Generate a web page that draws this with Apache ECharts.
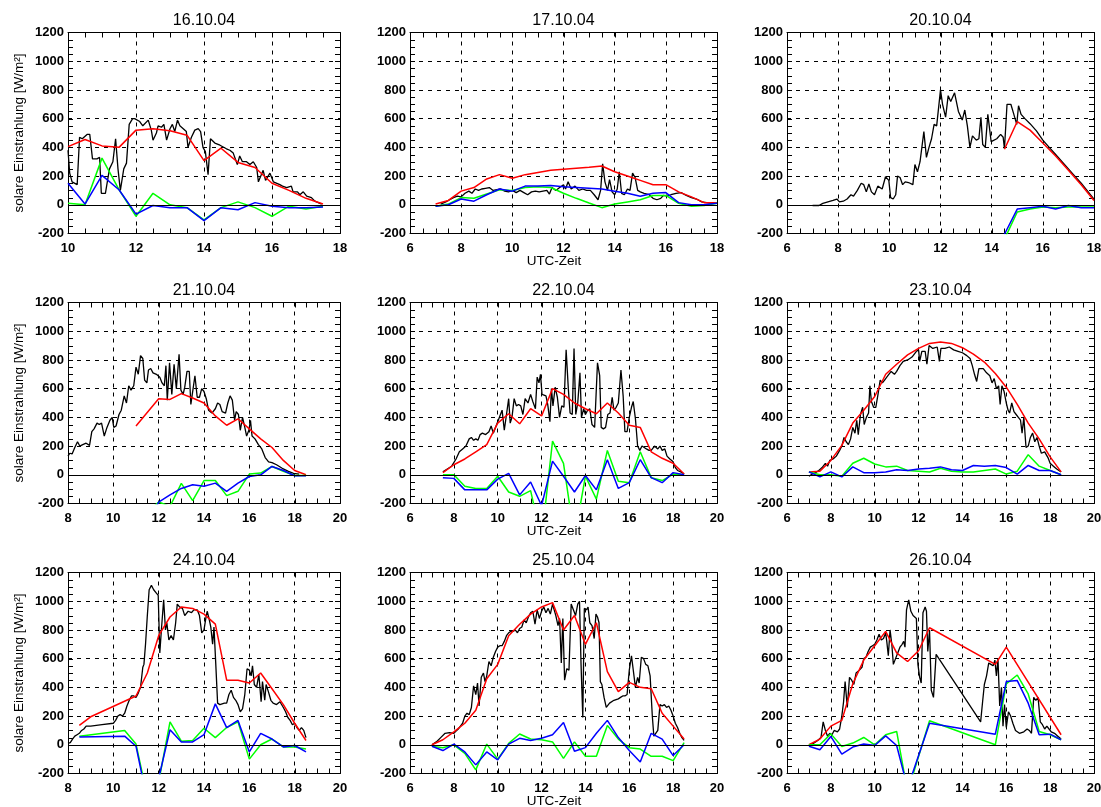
<!DOCTYPE html>
<html>
<head>
<meta charset="utf-8">
<script src="https://cdn.jsdelivr.net/npm/echarts@6/dist/echarts.min.js"></script>
<style>
html, body { margin: 0; padding: 0; background: #fff; }
#chart { width: 1101px; height: 807px; }
</style>
</head>
<body>
<div id="chart"></div>
<script>
// Tage und Zeitachsen (UTC-Stunden)
const dayTitles = ['16.10.04', '17.10.04', '20.10.04', '21.10.04', '22.10.04', '23.10.04', '24.10.04', '25.10.04', '26.10.04'];
const timeRanges = [[10, 18], [6, 18], [6, 18], [8, 20], [6, 20], [6, 20], [8, 20], [6, 20], [6, 20]];
const yRange = [-200, 1200];
const yStep = 200;
const yMinorStep = 50;
const xStep = 2;
const xMinorStep = 0.5;

// 16.10.04
const black1610 = [[10.0,380],[10.05,220],[10.12,160],[10.27,140],[10.34,470],[10.42,460],[10.56,490],[10.64,490],[10.72,320],[10.85,320],[10.93,330],[10.98,80],[11.1,80],[11.22,250],[11.32,300],[11.4,460],[11.47,250],[11.54,100],[11.64,250],[11.72,290],[11.8,560],[11.9,600],[11.96,600],[12.11,580],[12.2,550],[12.36,590],[12.45,520],[12.5,450],[12.6,500],[12.65,550],[12.75,540],[12.82,560],[12.9,450],[13.0,530],[13.07,560],[13.14,510],[13.22,590],[13.29,550],[13.39,530],[13.48,510],[13.53,400],[13.63,470],[13.73,520],[13.83,530],[13.9,510],[13.97,400],[14.04,370],[14.12,210],[14.19,460],[14.32,430],[14.47,415],[14.66,390],[14.76,380],[14.86,360],[14.98,280],[15.05,340],[15.13,300],[15.25,300],[15.35,280],[15.45,300],[15.55,260],[15.6,160],[15.74,240],[15.81,170],[15.94,220],[16.04,160],[16.23,140],[16.31,130],[16.43,120],[16.57,130],[16.62,90],[16.75,90],[16.82,70],[16.92,90],[17.02,60],[17.16,50],[17.26,25],[17.46,5]];
const red1610 = [[10,405],[10.5,455],[11,410],[11.5,400],[12,520],[12.5,530],[13,515],[13.5,485],[14,308],[14.5,394],[15,295],[15.5,260],[16,150],[16.5,100],[17,45],[17.5,5]];
const green1610 = [[10,10],[10.5,0],[11,325],[11.5,105],[12,-80],[12.5,80],[13,0],[13.5,-20],[14,-105],[14.5,-20],[15,20],[15.5,-20],[16,-80],[16.5,-10],[17,-30],[17.5,-10]];
const blue1610 = [[10,150],[10.5,5],[11,205],[11.5,105],[12,-65],[12.5,-5],[13,-20],[13.5,-20],[14,-110],[14.5,-20],[15,-35],[15.5,15],[16,-10],[16.5,-20],[17,-20],[17.5,-15]];

// 17.10.04
const black1710 = [[7.2,5],[7.4,20],[7.55,35],[7.7,50],[7.85,60],[8.0,55],[8.15,80],[8.3,95],[8.42,80],[8.55,110],[8.68,100],[8.8,110],[8.95,115],[9.1,120],[9.25,100],[9.4,105],[9.55,110],[9.7,95],[9.85,90],[10.0,100],[10.15,85],[10.3,100],[10.45,85],[10.6,70],[10.75,90],[10.9,95],[11.05,90],[11.2,95],[11.35,100],[11.45,75],[11.55,120],[11.7,100],[11.85,120],[12.0,140],[12.08,110],[12.18,160],[12.3,110],[12.45,130],[12.6,100],[12.75,110],[12.9,100],[13.05,100],[13.2,70],[13.35,35],[13.45,100],[13.53,285],[13.62,160],[13.72,100],[13.8,175],[13.9,90],[14.0,70],[14.1,110],[14.18,230],[14.27,80],[14.38,70],[14.5,110],[14.6,100],[14.7,220],[14.8,190],[14.9,100],[15.0,90],[15.15,80],[15.35,70],[15.5,45],[15.65,35],[15.8,45],[15.9,65],[16.05,60],[16.2,70],[16.4,80],[16.6,85],[16.8,65],[17.0,50],[17.2,40],[17.4,20],[17.6,15],[17.8,10]];
const red1710 = [[7,5],[7.5,30],[8,95],[8.5,120],[9,180],[9.5,210],[10,185],[10.5,210],[11,225],[11.5,240],[12,248],[12.5,255],[13,262],[13.5,270],[14,230],[14.5,200],[15,170],[15.5,140],[16,140],[16.5,90],[17,55],[17.5,15],[18,15]];
const green1710 = [[7,-10],[7.5,5],[8,50],[8.5,45],[9,75],[9.5,105],[10,100],[10.5,120],[11,125],[11.5,120],[12,80],[12.5,45],[13,12],[13.5,-20],[14,5],[14.5,20],[15,35],[15.5,65],[16,65],[16.5,10],[17,-10],[17.5,-5],[18,10]];
const blue1710 = [[7,-10],[7.5,0],[8,40],[8.5,25],[9,70],[9.5,110],[10,95],[10.5,130],[11,130],[11.5,135],[12,125],[12.5,120],[13,115],[13.5,110],[14,95],[14.5,80],[15,60],[15.5,80],[16,85],[16.5,15],[17,0],[17.5,0],[18,10]];

// 20.10.04
const black2010 = [[7.0,-5],[7.25,-5],[7.4,10],[7.6,20],[7.8,30],[7.95,40],[8.05,20],[8.2,25],[8.35,40],[8.5,70],[8.6,60],[8.75,100],[8.9,150],[9.0,140],[9.1,90],[9.2,145],[9.3,90],[9.42,70],[9.55,130],[9.62,140],[9.72,110],[9.85,195],[9.98,170],[10.05,50],[10.15,40],[10.25,70],[10.32,200],[10.42,190],[10.52,140],[10.62,160],[10.75,155],[10.82,165],[10.92,140],[11.0,280],[11.1,230],[11.2,300],[11.35,510],[11.45,330],[11.55,400],[11.65,460],[11.75,560],[11.85,550],[12.0,800],[12.08,700],[12.2,610],[12.3,760],[12.4,720],[12.55,780],[12.7,650],[12.85,590],[12.95,660],[13.05,550],[13.15,400],[13.25,480],[13.4,450],[13.5,460],[13.58,610],[13.65,420],[13.75,400],[13.85,630],[13.98,440],[14.2,460],[14.35,490],[14.45,470],[14.5,390],[14.6,700],[14.75,700],[14.85,640],[14.98,560],[15.05,690],[15.15,630],[15.3,600],[15.5,565],[15.75,515],[16.0,450],[16.25,400],[16.5,350],[16.75,300],[17.0,250],[17.25,200],[17.5,150],[17.75,95],[18.0,40]];
const red2010 = [[14.5,387],[15,580],[15.5,520],[16,430],[16.5,340],[17,240],[17.5,140],[18,30]];
const green2010 = [[14.5,-240],[15,-50],[15.5,-30],[16,-15],[16.5,-20],[17,-15],[17.5,-15],[18,-15]];
const blue2010 = [[14.5,-205],[15,-30],[15.5,-20],[16,-10],[16.5,-30],[17,-5],[17.5,-20],[18,-20]];

// 21.10.04
const black2110 = [[8.0,130],[8.08,150],[8.18,145],[8.3,190],[8.42,230],[8.52,200],[8.65,210],[8.8,220],[8.95,205],[9.05,300],[9.15,320],[9.28,360],[9.38,350],[9.48,360],[9.6,270],[9.72,330],[9.85,380],[9.95,400],[10.02,330],[10.12,340],[10.25,420],[10.35,450],[10.48,550],[10.58,500],[10.68,620],[10.78,590],[10.9,620],[11.0,750],[11.1,700],[11.2,830],[11.3,810],[11.38,660],[11.48,640],[11.55,730],[11.65,740],[11.75,710],[11.9,700],[12.05,680],[12.15,640],[12.25,620],[12.32,760],[12.38,520],[12.48,780],[12.58,560],[12.68,770],[12.78,600],[12.9,840],[12.98,590],[13.08,560],[13.15,610],[13.25,720],[13.35,720],[13.42,490],[13.5,480],[13.6,690],[13.7,540],[13.8,540],[13.9,600],[14.0,580],[14.1,530],[14.2,450],[14.35,430],[14.5,460],[14.6,500],[14.7,490],[14.8,440],[14.95,430],[15.05,500],[15.15,550],[15.25,520],[15.35,380],[15.42,440],[15.52,420],[15.6,310],[15.7,400],[15.8,330],[15.88,270],[15.98,310],[16.05,380],[16.12,270],[16.25,250],[16.4,210],[16.55,180],[16.7,120],[16.85,90],[17.0,85],[17.2,70],[17.45,45],[17.7,25],[17.95,10],[18.2,5]];
const red2110 = [[11,340],[12,530],[12.5,525],[13,565],[13.5,535],[14,500],[14.5,410],[15,345],[15.5,390],[16,320],[16.5,250],[17,190],[17.5,100],[18,30],[18.5,0]];
const green2110 = [[11.5,-260],[12,-190],[12.5,-220],[13,-60],[13.5,-180],[14,-40],[14.5,-40],[15,-145],[15.5,-115],[16,5],[16.5,12],[17,58],[17.5,25],[18,-5],[18.5,-5]];
const blue2110 = [[11.5,-350],[12,-190],[12.5,-140],[13,-95],[13.5,-70],[14,-80],[14.5,-58],[15,-116],[15.5,-58],[16,-12],[16.5,0],[17,58],[17.5,30],[18,-7],[18.5,-7]];

// 22.10.04
const black2210 = [[7.5,20],[7.7,40],[7.9,60],[8.1,110],[8.25,160],[8.4,180],[8.55,200],[8.7,250],[8.8,260],[8.9,240],[9.0,250],[9.1,240],[9.2,280],[9.3,290],[9.45,280],[9.6,300],[9.7,340],[9.8,290],[9.9,330],[10.0,370],[10.1,410],[10.2,450],[10.3,310],[10.4,420],[10.5,530],[10.57,360],[10.65,400],[10.75,530],[10.85,480],[10.95,490],[11.05,480],[11.15,420],[11.25,530],[11.38,500],[11.5,560],[11.6,510],[11.72,460],[11.8,680],[11.88,640],[11.95,700],[12.02,560],[12.1,570],[12.2,550],[12.28,490],[12.38,370],[12.45,600],[12.52,480],[12.62,610],[12.72,540],[12.82,400],[12.92,480],[13.02,470],[13.12,870],[13.22,600],[13.3,430],[13.4,420],[13.48,880],[13.56,420],[13.65,500],[13.75,710],[13.82,400],[13.92,460],[14.0,420],[14.1,450],[14.2,460],[14.3,350],[14.42,330],[14.55,780],[14.65,690],[14.72,330],[14.82,320],[14.92,330],[15.02,420],[15.12,430],[15.22,540],[15.3,450],[15.4,470],[15.5,500],[15.62,730],[15.72,550],[15.8,300],[15.9,300],[16.0,400],[16.1,470],[16.18,510],[16.28,390],[16.38,200],[16.48,170],[16.58,200],[16.68,190],[16.78,180],[16.9,170],[17.0,170],[17.15,200],[17.3,180],[17.4,200],[17.5,170],[17.62,180],[17.72,130],[17.85,110],[18.0,90],[18.1,50],[18.2,30],[18.35,20],[18.5,5]];
const red2210 = [[7.5,15],[8,70],[8.5,110],[9,160],[9.5,210],[10,360],[10.5,425],[11,355],[11.5,460],[12,410],[12.5,600],[13,560],[13.5,500],[14,460],[14.5,425],[15,500],[15.5,430],[16,345],[16.5,330],[17,160],[17.5,115],[18,80],[18.5,5]];
const green2210 = [[7.5,0],[8,0],[8.5,-80],[9,-95],[9.5,-95],[10,-10],[10.5,-120],[11,-150],[11.5,-110],[12,-450],[12.5,235],[13,80],[13.5,-440],[14,-10],[14.5,-170],[15,170],[15.5,-45],[16,-55],[16.5,160],[17,-20],[17.5,-40],[18,5],[18.5,0]];
const blue2210 = [[7.5,-20],[8,-25],[8.5,-105],[9,-105],[9.5,-105],[10,-30],[10.5,10],[11,-140],[11.5,-50],[12,-215],[12.5,95],[13,-10],[13.5,-120],[14,-5],[14.5,-105],[15,105],[15.5,-95],[16,-55],[16.5,105],[17,-20],[17.5,-55],[18,15],[18.5,0]];

// 23.10.04
const black2310 = [[7.0,-10],[7.15,5],[7.3,15],[7.45,30],[7.6,50],[7.75,80],[7.85,60],[7.95,100],[8.1,110],[8.25,130],[8.4,170],[8.5,200],[8.6,260],[8.7,230],[8.8,210],[8.9,250],[9.0,330],[9.1,290],[9.18,380],[9.25,280],[9.35,420],[9.45,470],[9.52,350],[9.62,400],[9.72,430],[9.78,620],[9.85,510],[9.95,470],[10.05,470],[10.15,560],[10.25,660],[10.35,640],[10.45,660],[10.6,690],[10.75,720],[10.9,700],[11.0,720],[11.15,760],[11.3,790],[11.5,800],[11.7,820],[11.9,860],[12.0,870],[12.05,790],[12.15,860],[12.3,860],[12.38,770],[12.48,900],[12.65,880],[12.85,890],[12.95,790],[13.02,880],[13.2,880],[13.4,890],[13.6,870],[13.8,860],[14.0,850],[14.2,830],[14.35,810],[14.45,760],[14.55,700],[14.65,650],[14.75,740],[14.95,740],[15.1,710],[15.25,690],[15.35,640],[15.45,670],[15.55,600],[15.65,620],[15.72,490],[15.8,620],[15.9,580],[16.0,500],[16.08,450],[16.15,430],[16.25,500],[16.35,440],[16.45,420],[16.55,400],[16.65,380],[16.72,290],[16.8,400],[16.9,190],[17.0,200],[17.1,260],[17.2,290],[17.3,230],[17.4,260],[17.5,200],[17.6,150],[17.75,160],[17.9,120],[18.0,80],[18.15,60],[18.3,40],[18.5,20]];
const red2310 = [[7,20],[7.5,25],[8,100],[8.5,205],[9,360],[9.5,450],[10,545],[10.5,700],[11,770],[11.5,835],[12,880],[12.5,915],[13,925],[13.5,915],[14,885],[14.5,840],[15,785],[15.5,705],[16,610],[16.5,490],[17,360],[17.5,250],[18,125],[18.5,20]];
const green2310 = [[7,20],[7.5,0],[8,0],[8.5,-10],[9,80],[9.5,115],[10,75],[10.5,55],[11,60],[11.5,30],[12,25],[12.5,20],[13,45],[13.5,25],[14,20],[14.5,20],[15,30],[15.5,40],[16,5],[16.5,25],[17,140],[17.5,60],[18,30],[18.5,0]];
const blue2310 = [[7,20],[7.5,-15],[8,20],[8.5,-15],[9,55],[9.5,15],[10,15],[10.5,20],[11,35],[11.5,30],[12,40],[12.5,45],[13,55],[13.5,35],[14,30],[14.5,65],[15,60],[15.5,65],[16,50],[16.5,5],[17,65],[17.5,30],[18,30],[18.5,0]];

// 24.10.04
const black2410 = [[8.0,10],[8.1,15],[8.2,40],[8.3,60],[8.4,70],[8.5,80],[8.6,100],[8.7,110],[8.8,130],[9.0,130],[9.5,140],[10.0,150],[10.1,170],[10.2,200],[10.3,210],[10.4,200],[10.5,220],[10.6,270],[10.7,310],[10.8,340],[10.9,340],[11.0,330],[11.1,360],[11.2,400],[11.3,540],[11.35,560],[11.42,700],[11.5,900],[11.58,1080],[11.68,1110],[11.78,1080],[11.88,1060],[11.98,1040],[12.05,640],[12.12,800],[12.22,1010],[12.3,800],[12.36,850],[12.45,730],[12.55,760],[12.65,730],[12.75,850],[12.82,980],[12.92,960],[13.05,950],[13.15,900],[13.3,930],[13.45,920],[13.55,940],[13.7,940],[13.8,900],[13.9,780],[14.0,800],[14.08,880],[14.14,930],[14.22,880],[14.3,820],[14.38,700],[14.44,820],[14.52,560],[14.6,290],[14.7,280],[14.9,290],[15.0,290],[15.1,350],[15.2,380],[15.3,330],[15.4,310],[15.5,280],[15.6,230],[15.7,250],[15.8,350],[15.9,530],[16.0,520],[16.08,480],[16.14,550],[16.22,420],[16.32,400],[16.42,490],[16.52,300],[16.58,440],[16.68,310],[16.74,420],[16.84,370],[16.95,310],[17.05,290],[17.2,280],[17.35,300],[17.5,260],[17.6,230],[17.7,190],[17.8,170],[17.9,140],[18.0,150],[18.1,120],[18.2,100],[18.3,120],[18.4,100],[18.5,50]];
const red2410 = [[8.5,135],[9,195],[11,340],[11.5,500],[12,760],[12.5,890],[13,960],[13.5,950],[14,910],[14.5,840],[15,450],[15.5,450],[16,430],[16.5,500],[17,390],[17.5,280],[18,150],[18.5,30]];
const green2410 = [[8.5,60],[10.5,100],[11,5],[11.5,-360],[12,-260],[12.5,160],[13,25],[13.5,30],[14,115],[14.5,50],[15,120],[15.5,160],[16,-100],[16.5,0],[17,40],[17.5,-15],[18,-15],[18.5,-30]];
const blue2410 = [[8.5,55],[10.5,60],[11,-10],[11.5,-390],[12,-234],[12.5,105],[13,20],[13.5,20],[14,70],[14.5,285],[15,120],[15.5,170],[16,-50],[16.5,80],[17,40],[17.5,-15],[18,-5],[18.5,-50]];

// 25.10.04
const black2510 = [[7.0,0],[7.2,20],[7.4,50],[7.6,80],[7.8,85],[8.0,80],[8.1,95],[8.2,110],[8.3,130],[8.4,150],[8.5,200],[8.6,220],[8.7,210],[8.8,260],[8.9,410],[9.0,350],[9.08,430],[9.15,270],[9.25,470],[9.35,500],[9.42,440],[9.5,480],[9.6,580],[9.7,550],[9.8,610],[9.9,650],[10.0,680],[10.1,690],[10.2,690],[10.3,720],[10.4,760],[10.5,780],[10.6,790],[10.7,790],[10.8,800],[10.9,780],[11.0,810],[11.1,820],[11.2,870],[11.3,850],[11.4,890],[11.5,920],[11.6,930],[11.7,840],[11.8,940],[11.9,880],[12.0,930],[12.1,960],[12.2,920],[12.3,950],[12.4,910],[12.5,980],[12.55,985],[12.65,900],[12.75,830],[12.82,880],[12.9,570],[12.97,880],[13.05,450],[13.15,530],[13.25,520],[13.35,980],[13.45,940],[13.55,900],[13.65,980],[13.73,1000],[13.8,560],[13.88,190],[13.95,950],[14.05,940],[14.12,960],[14.2,850],[14.3,830],[14.4,740],[14.48,910],[14.55,890],[14.62,850],[14.68,440],[14.75,420],[14.85,330],[14.95,260],[15.1,290],[15.3,310],[15.5,320],[15.6,330],[15.7,340],[15.8,340],[15.9,350],[16.0,520],[16.1,620],[16.18,620],[16.28,400],[16.38,470],[16.45,430],[16.55,610],[16.65,600],[16.75,560],[16.85,550],[16.95,480],[17.05,200],[17.12,60],[17.2,50],[17.3,100],[17.4,280],[17.5,270],[17.6,280],[17.7,260],[17.8,270],[17.9,240],[18.0,200],[18.1,150],[18.2,120],[18.3,80],[18.4,50],[18.5,30]];
const red2510 = [[7,0],[7.5,35],[8,90],[8.5,150],[9,240],[9.5,460],[10,560],[10.5,760],[11,840],[11.5,910],[12,960],[12.5,990],[13,800],[13.5,900],[14,700],[14.5,850],[15,510],[15.5,370],[16,435],[16.5,400],[17,390],[17.5,220],[18,130],[18.5,40]];
const green2510 = [[7,-10],[7.5,-20],[8,0],[8.5,-60],[9,-175],[9.5,5],[10,-100],[10.5,10],[11,75],[11.5,40],[12,35],[12.5,20],[13,-95],[13.5,20],[14,-80],[14.5,-80],[15,135],[15.5,40],[16,-20],[16.5,-30],[17,-80],[17.5,-80],[18,-110],[18.5,15]];
const blue2510 = [[7,-10],[7.5,-40],[8,5],[8.5,-50],[9,-140],[9.5,-50],[10,-105],[10.5,5],[11,45],[11.5,30],[12,45],[12.5,70],[13,155],[13.5,-45],[14,-20],[14.5,80],[15,170],[15.5,50],[16,-40],[16.5,-120],[17,80],[17.5,40],[18,-75],[18.5,0]];

// 26.10.04
const black2610 = [[7.0,0],[7.2,10],[7.4,30],[7.55,50],[7.65,160],[7.75,100],[7.85,60],[7.95,80],[8.05,70],[8.15,100],[8.3,90],[8.4,110],[8.5,200],[8.58,300],[8.65,440],[8.75,260],[8.85,470],[8.95,450],[9.05,420],[9.15,500],[9.3,520],[9.42,540],[9.5,600],[9.6,610],[9.7,650],[9.8,680],[9.9,690],[10.0,700],[10.1,730],[10.2,770],[10.3,730],[10.4,740],[10.5,780],[10.55,720],[10.62,620],[10.7,800],[10.78,700],[10.85,560],[10.95,600],[11.05,640],[11.15,680],[11.25,700],[11.32,720],[11.38,680],[11.45,940],[11.55,1010],[11.65,930],[11.75,900],[11.9,880],[11.97,560],[12.05,470],[12.12,430],[12.2,920],[12.3,960],[12.36,930],[12.42,650],[12.5,800],[12.58,380],[12.68,330],[12.8,630],[14.83,160],[14.92,300],[15.0,420],[15.1,480],[15.2,570],[15.3,560],[15.4,550],[15.48,590],[15.55,480],[15.62,600],[15.7,270],[15.78,400],[15.85,130],[15.92,280],[16.0,120],[16.1,230],[16.2,200],[16.3,150],[16.42,100],[16.6,80],[16.8,90],[16.95,110],[17.05,100],[17.15,80],[17.25,330],[17.35,310],[17.45,330],[17.55,160],[17.65,140],[17.75,110],[17.85,130],[17.95,110],[18.05,90],[18.2,80],[18.35,60],[18.5,40]];
const red2610 = [[7,0],[7.5,40],[8,130],[8.5,170],[9,425],[9.5,590],[10,690],[10.5,790],[11,640],[11.5,580],[12,655],[12.5,815],[15.5,560],[16,680],[18.5,70]];
const green2610 = [[7,0],[7.5,0],[8,76],[8.5,-12],[9,12],[9.5,51],[10,0],[10.5,70],[11,93],[11.5,-330],[12.5,167],[15.5,0],[16,424],[16.5,486],[17,354],[17.5,93],[18,70],[18.5,35]];
const blue2610 = [[7,-10],[7.5,-35],[8,58],[8.5,-65],[9,-16],[9.5,5],[10,-5],[10.5,62],[11,-5],[11.5,-300],[12.5,150],[15.5,74],[16,440],[16.5,447],[17,290],[17.5,70],[18,74],[18.5,35]];

const blackSeries = [black1610, black1710, black2010, black2110, black2210, black2310, black2410, black2510, black2610];
const redSeries = [red1610, red1710, red2010, red2110, red2210, red2310, red2410, red2510, red2610];
const greenSeries = [green1610, green1710, green2010, green2110, green2210, green2310, green2410, green2510, green2610];
const blueSeries = [blue1610, blue1710, blue2010, blue2110, blue2210, blue2310, blue2410, blue2510, blue2610];

const yTitle = 'solare Einstrahlung [W/m²]';
const xTitle = 'UTC-Zeit';

// Seitenaufteilung 3x3
const FONT = "'Liberation Sans', Arial, Helvetica, sans-serif";
const colLeft = [68, 410, 787];
const colWidth = [272, 307, 307];
const rowTop = [32.5, 302.5, 572.5];
const rowHeight = 201;
const TICK_LEN = 5;

const grids = [], xAxes = [], yAxes = [], series = [], graphics = [];
const axisLineStyle = { color: '#000', width: 1 };
const dashed = { color: '#000', width: 1, type: [4, 5] };
const plainNumber = v => String(v);
const labelStyle = { show: true, color: '#000', fontSize: 13, fontWeight: 'bold', fontFamily: FONT, formatter: plainNumber, showMinLabel: true, showMaxLabel: true, hideOverlap: false };

// Hauptachse mit Beschriftung und gestricheltem Gitter
function labelledAxis(gridIndex, range, step, position, margin) {
  return {
    type: 'value', gridIndex, min: range[0], max: range[1], interval: step, position,
    axisLine: { show: true, onZero: false, lineStyle: axisLineStyle },
    axisTick: { show: false },
    axisLabel: Object.assign({ margin }, labelStyle),
    splitLine: { show: true, lineStyle: dashed }
  };
}
// Gegenüberliegende Rahmenlinie
function frameAxis(gridIndex, range, position) {
  return {
    type: 'value', gridIndex, min: range[0], max: range[1], position,
    axisLine: { show: true, onZero: false, lineStyle: axisLineStyle },
    axisTick: { show: false }, axisLabel: { show: false }, splitLine: { show: false }
  };
}
// kurze Teilstriche an allen vier Rahmenseiten, über die Achsenskalen platziert
function tickMarks(xr) {
  return function (params, api) {
    const children = [];
    const seg = (x1, y1, x2, y2) => children.push({ type: 'line', silent: true,
      shape: { x1, y1, x2, y2 }, style: { stroke: '#000', lineWidth: 1 } });
    for (let t = xr[0] + xMinorStep; t < xr[1]; t += xMinorStep) {
      const b = api.coord([t, yRange[0]]), tp = api.coord([t, yRange[1]]);
      const x = Math.round(b[0]) + 0.5;
      seg(x, b[1], x, b[1] - TICK_LEN);
      seg(x, tp[1], x, tp[1] + TICK_LEN);
    }
    for (let v = yRange[0] + yMinorStep; v < yRange[1]; v += yMinorStep) {
      const l = api.coord([xr[0], v]), r = api.coord([xr[1], v]);
      const y = Math.round(l[1]) + 0.5;
      seg(l[0], y, l[0] + TICK_LEN, y);
      seg(r[0], y, r[0] - TICK_LEN, y);
    }
    return { type: 'group', children };
  };
}

for (let i = 0; i < 9; i++) {
  const row = Math.floor(i / 3), col = i % 3;
  const left = colLeft[col], top = rowTop[row], width = colWidth[col];
  grids.push({ left, top, width, height: rowHeight, outerBoundsMode: 'none', containLabel: false });

  const xr = timeRanges[i];
  xAxes.push(labelledAxis(i, xr, xStep, 'bottom', 8));
  xAxes.push(frameAxis(i, xr, 'top'));

  const yMain = labelledAxis(i, yRange, yStep, 'left', 4);
  if (col === 0) {
    yMain.name = yTitle;
    yMain.nameLocation = 'middle';
    yMain.nameGap = 42;
    yMain.nameTextStyle = { color: '#000', fontSize: 13.5, fontFamily: FONT };
  }
  yAxes.push(yMain);
  yAxes.push(frameAxis(i, yRange, 'right'));

  const common = { type: 'line', xAxisIndex: 2 * i, yAxisIndex: 2 * i, showSymbol: false, symbol: 'none', clip: true, animation: false, silent: true };
  series.push({ type: 'custom', xAxisIndex: 2 * i, yAxisIndex: 2 * i, silent: true, animation: false, clip: false,
    data: [[xr[0], yRange[0]]], renderItem: tickMarks(xr), z: 3 });
  series.push(Object.assign({}, common, {
    name: 'schwarz', data: blackSeries[i], lineStyle: { color: '#000', width: 1.3 }, itemStyle: { color: '#000' },
    markLine: { silent: true, symbol: 'none', animation: false, label: { show: false },
      lineStyle: { color: '#000', type: 'solid', width: 1 }, data: [{ yAxis: 0 }] }
  }));
  series.push(Object.assign({}, common, { name: 'rot', data: redSeries[i], lineStyle: { color: '#ff0000', width: 1.5 }, itemStyle: { color: '#ff0000' } }));
  series.push(Object.assign({}, common, { name: 'gruen', data: greenSeries[i], lineStyle: { color: '#00ff00', width: 1.5 }, itemStyle: { color: '#00ff00' } }));
  series.push(Object.assign({}, common, { name: 'blau', data: blueSeries[i], lineStyle: { color: '#0000ff', width: 1.5 }, itemStyle: { color: '#0000ff' } }));

  // Datum über jedem Feld
  graphics.push({ type: 'text', x: left + width / 2, y: top - 11.5, silent: true,
    style: { text: dayTitles[i], fill: '#000', fontSize: 16, fontFamily: FONT, align: 'center', verticalAlign: 'middle' } });
  if (col === 1) {
    graphics.push({ type: 'text', x: 554, y: top + rowHeight + 28, silent: true,
      style: { text: xTitle, fill: '#000', fontSize: 13.5, fontFamily: FONT, align: 'center', verticalAlign: 'middle' } });
  }
}

const chart = echarts.init(document.getElementById('chart'), null, { renderer: 'canvas' });
chart.setOption({
  animation: false,
  backgroundColor: '#fff',
  grid: grids,
  xAxis: xAxes,
  yAxis: yAxes,
  series: series,
  graphic: graphics
});
</script>
</body>
</html>
